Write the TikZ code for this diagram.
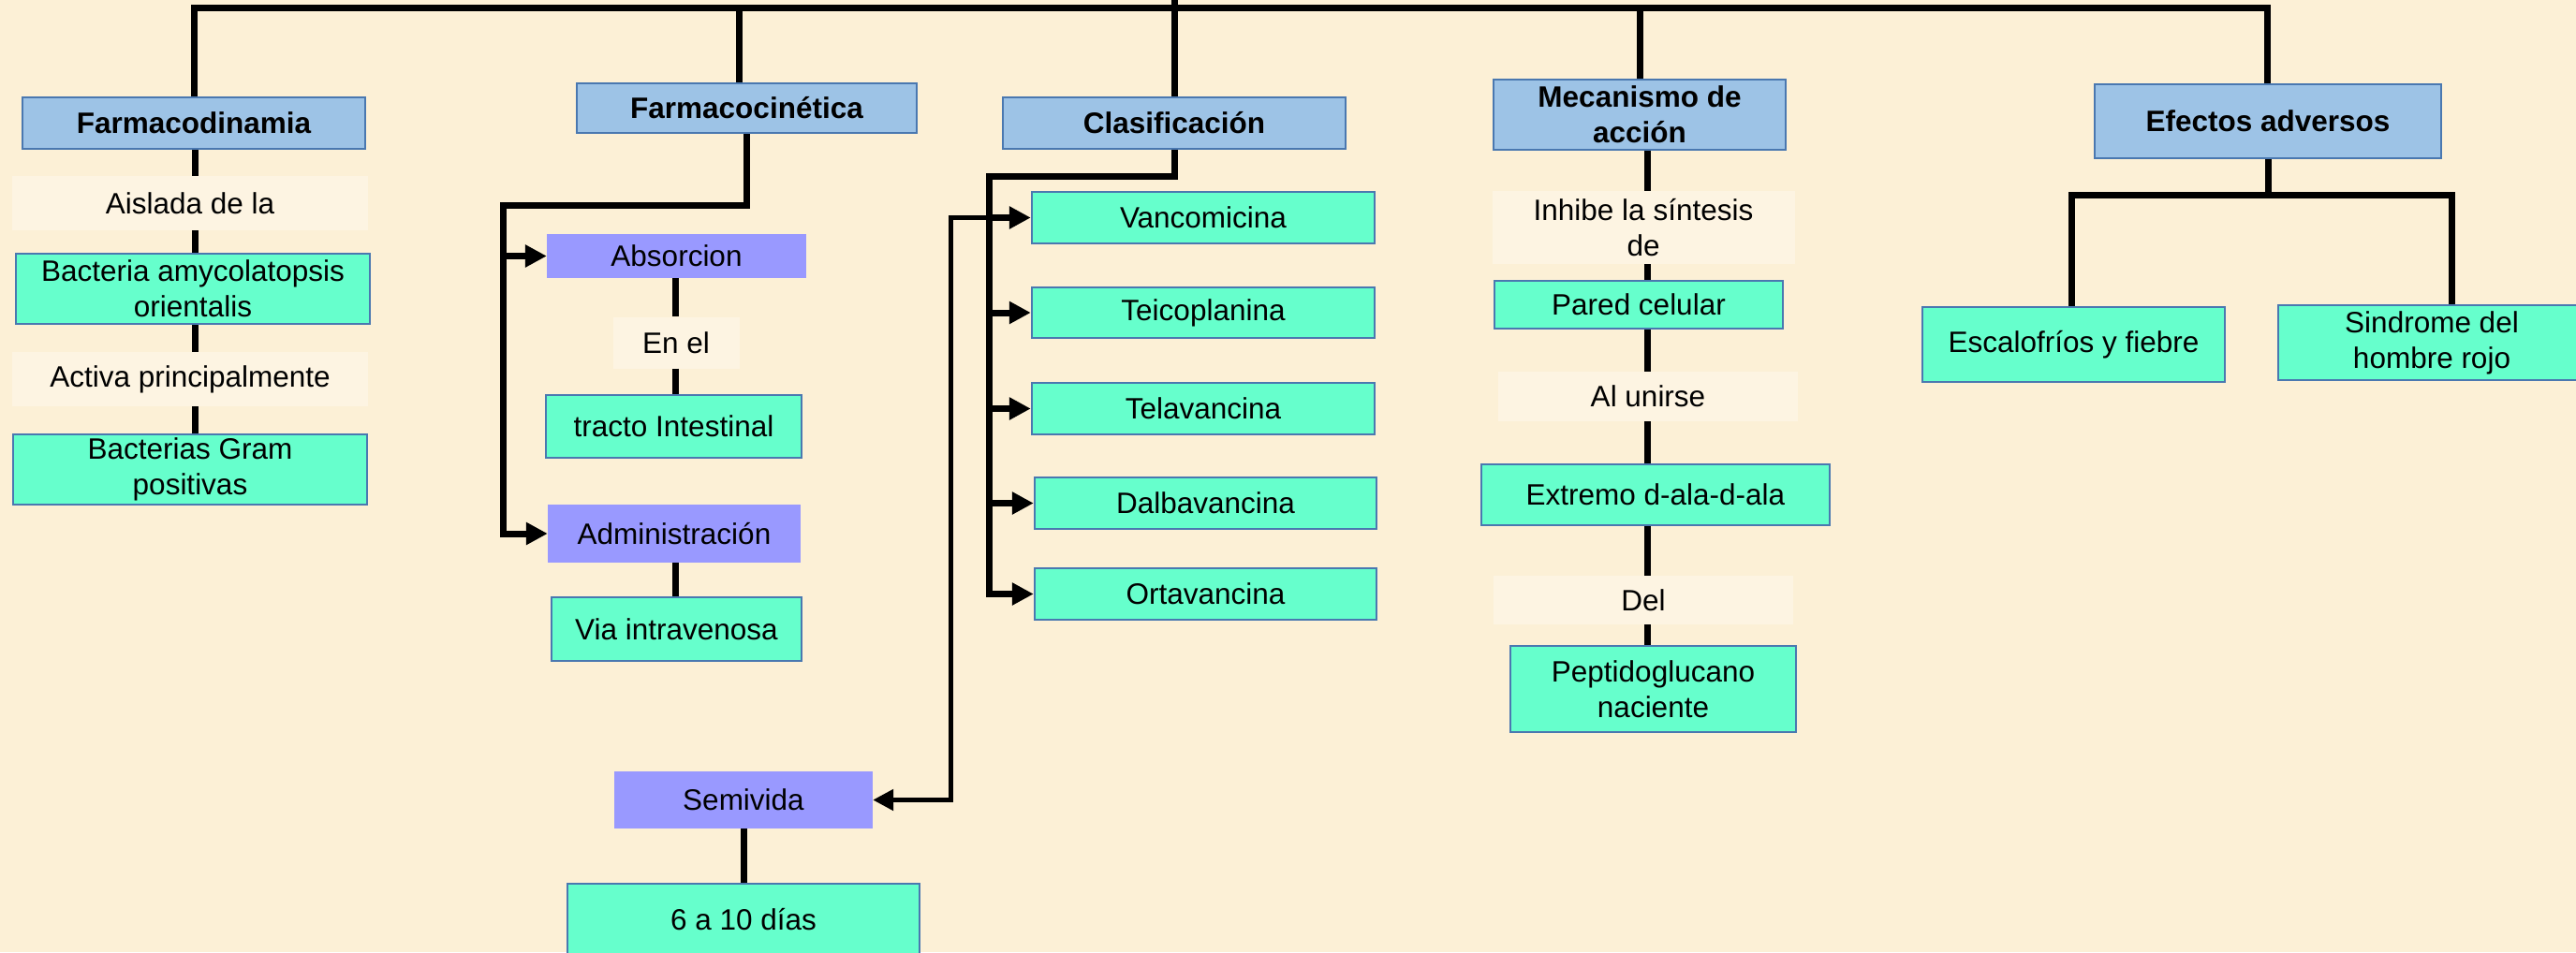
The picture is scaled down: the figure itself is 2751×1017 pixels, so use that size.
\documentclass[tikz,border=0pt]{standalone}
\usepackage{fontspec}
\setmainfont{Liberation Sans}
\usetikzlibrary{arrows.meta}
\definecolor{bgc}{HTML}{FCF0D6}
\definecolor{lblc}{HTML}{FDF4E2}
\definecolor{headc}{HTML}{9DC3E6}
\definecolor{bordc}{HTML}{4A78B0}
\definecolor{greenc}{HTML}{66FFCC}
\definecolor{purpc}{HTML}{9999FF}
\begin{document}
\begin{tikzpicture}[x=1pt,y=-1pt,
  font=\fontsize{31.5}{38}\selectfont,
  sz/.style 2 args={minimum width=#1pt, minimum height=#2pt},
  hbox/.style={draw=bordc, line width=2.5pt, fill=headc, font=\fontsize{31.5}{38}\selectfont\bfseries, align=center, inner sep=0pt},
  gbox/.style={draw=bordc, line width=2.5pt, fill=greenc, align=center, inner sep=0pt},
  pbox/.style={fill=purpc, align=center, inner sep=0pt},
  lbl/.style={fill=lblc, align=center, inner sep=0pt},
  conn/.style={line width=7pt, black},
  arr/.style={conn, -{Triangle[length=23pt,width=23pt]}},
  tarr/.style={line width=5pt, black, -{Triangle[length=22pt,width=22pt]}}]
\fill[bgc] (0,0) rectangle (2751,1017);
\useasboundingbox (0,0) rectangle (2751,1017);

% headings
\node[hbox, sz={366}{55}] (h1) at (207,131.5) {Farmacodinamia};
\node[hbox, sz={363}{53}] (h2) at (797.5,115.5) {Farmacocinética};
\node[hbox, sz={366}{55}] (h3) at (1254,131.5) {Clasificación};
\node[hbox, sz={312}{75}] (h4) at (1751,122.5) {Mecanismo de\\acción};
\node[hbox, sz={370}{79}] (h5) at (2422,129.5) {Efectos adversos};

% Farmacodinamia column
\node[lbl, sz={380}{58}] (l1) at (203,217) {Aislada de la};
\node[gbox, sz={378}{75}] (b1) at (206,308.5) {Bacteria amycolatopsis\\orientalis};
\node[lbl, sz={380}{58}] (l2) at (203,405) {Activa principalmente};
\node[gbox, sz={378}{75}] (b2) at (203,501.5) {Bacterias Gram\\positivas};

% Farmacocinetica column
\node[pbox, sz={277}{47}] (p1) at (722.5,273.5) {Absorcion};
\node[lbl, sz={135}{55}] (lp) at (722,366) {En el};
\node[gbox, sz={273}{67}] (p2) at (719.5,455.5) {tracto Intestinal};
\node[pbox, sz={270}{62}] (p3) at (720,570) {Administración};
\node[gbox, sz={267}{68}] (p4) at (722.5,672) {Via intravenosa};
\node[pbox, sz={276}{61}] (s1) at (794,854.5) {Semivida};
\node[gbox, sz={376}{76}] (s2) at (794,982) {6 a 10 días};

% Clasificacion column
\node[gbox, sz={366}{55}] (c1) at (1285,232.5) {Vancomicina};
\node[gbox, sz={366}{54}] (c2) at (1285,334) {Teicoplanina};
\node[gbox, sz={366}{55}] (c3) at (1285,436.5) {Telavancina};
\node[gbox, sz={365}{55}] (c4) at (1287.5,537.5) {Dalbavancina};
\node[gbox, sz={365}{55}] (c5) at (1287.5,634.5) {Ortavancina};

% Mecanismo column
\node[lbl, sz={323}{78}] (m1) at (1755,243) {Inhibe la síntesis\\de};
\node[gbox, sz={308}{51}] (m2) at (1750,325.5) {Pared celular};
\node[lbl, sz={320}{53}] (m3) at (1760,423.5) {Al unirse};
\node[gbox, sz={372}{65}] (m4) at (1768,528.5) {Extremo d-ala-d-ala};
\node[lbl, sz={320}{52}] (m5) at (1755,641) {Del};
\node[gbox, sz={305}{92}] (m6) at (1765.5,736) {Peptidoglucano\\naciente};

% Efectos column
\node[gbox, sz={323}{80}] (e1) at (2214.5,368) {Escalofríos y fiebre};
\node[gbox, sz={328}{80}] (e2) at (2597,366) {Sindrome del\\hombre rojo};

% coordinates
\coordinate (tr) at (2421,8.5);
\coordinate (t0) at (0,-2);
\coordinate (d2) at (789,0);
\coordinate (dx) at (208,0);
\coordinate (px) at (721,0);
\coordinate (mx) at (1759,0);
\coordinate (kb) at (537,219);
\coordinate (cb) at (1056,188);
\coordinate (sv) at (1015,0);
\coordinate (el) at (2212,208);
\coordinate (er) at (2618,208);

% top bar
\draw[conn] (h1.north) |- (tr) -- (tr |- h5.north);
\draw[conn] (d2 |- h2.north) -- (d2 |- tr);
\draw[conn] (h3.north) -- (h3.north |- t0);
\draw[conn] (h4.north) -- (h4.north |- tr);

% Farmacodinamia
\draw[conn] (h1.south -| dx) -- (l1.north -| dx);
\draw[conn] (l1.south -| dx) -- (b1.north -| dx);
\draw[conn] (b1.south -| dx) -- (l2.north -| dx);
\draw[conn] (l2.south -| dx) -- (b2.north -| dx);

% Farmacocinetica
\draw[arr] (h2.south) |- (kb) |- (p3.west);
\draw[arr] (kb |- p1.west) -- (p1.west);
\draw[conn] (p1.south -| px) -- (lp.north -| px);
\draw[conn] (lp.south -| px) -- (p2.north -| px);
\draw[conn] (p3.south -| px) -- (p4.north -| px);
\draw[conn] (s1.south) -- (s2.north);

% Clasificacion
\draw[arr] (h3.south) |- (cb) |- (c5.west);
\foreach \c in {c1,c2,c3,c4} \draw[arr] (cb |- \c.west) -- (\c.west);
\draw[tarr] (cb |- c1.west) -| (sv |- s1.east) -- (s1.east);

% Mecanismo
\draw[conn] (h4.south -| mx) -- (m1.north -| mx);
\draw[conn] (m1.south -| mx) -- (m2.north -| mx);
\draw[conn] (m2.south -| mx) -- (m3.north -| mx);
\draw[conn] (m3.south -| mx) -- (m4.north -| mx);
\draw[conn] (m4.south -| mx) -- (m5.north -| mx);
\draw[conn] (m5.south -| mx) -- (m6.north -| mx);

% Efectos
\draw[conn] (h5.south) -- (h5.south |- el);
\draw[conn] (el |- e1.north) -- (el) -- (er) -- (er |- e2.north);
\end{tikzpicture}
\end{document}
